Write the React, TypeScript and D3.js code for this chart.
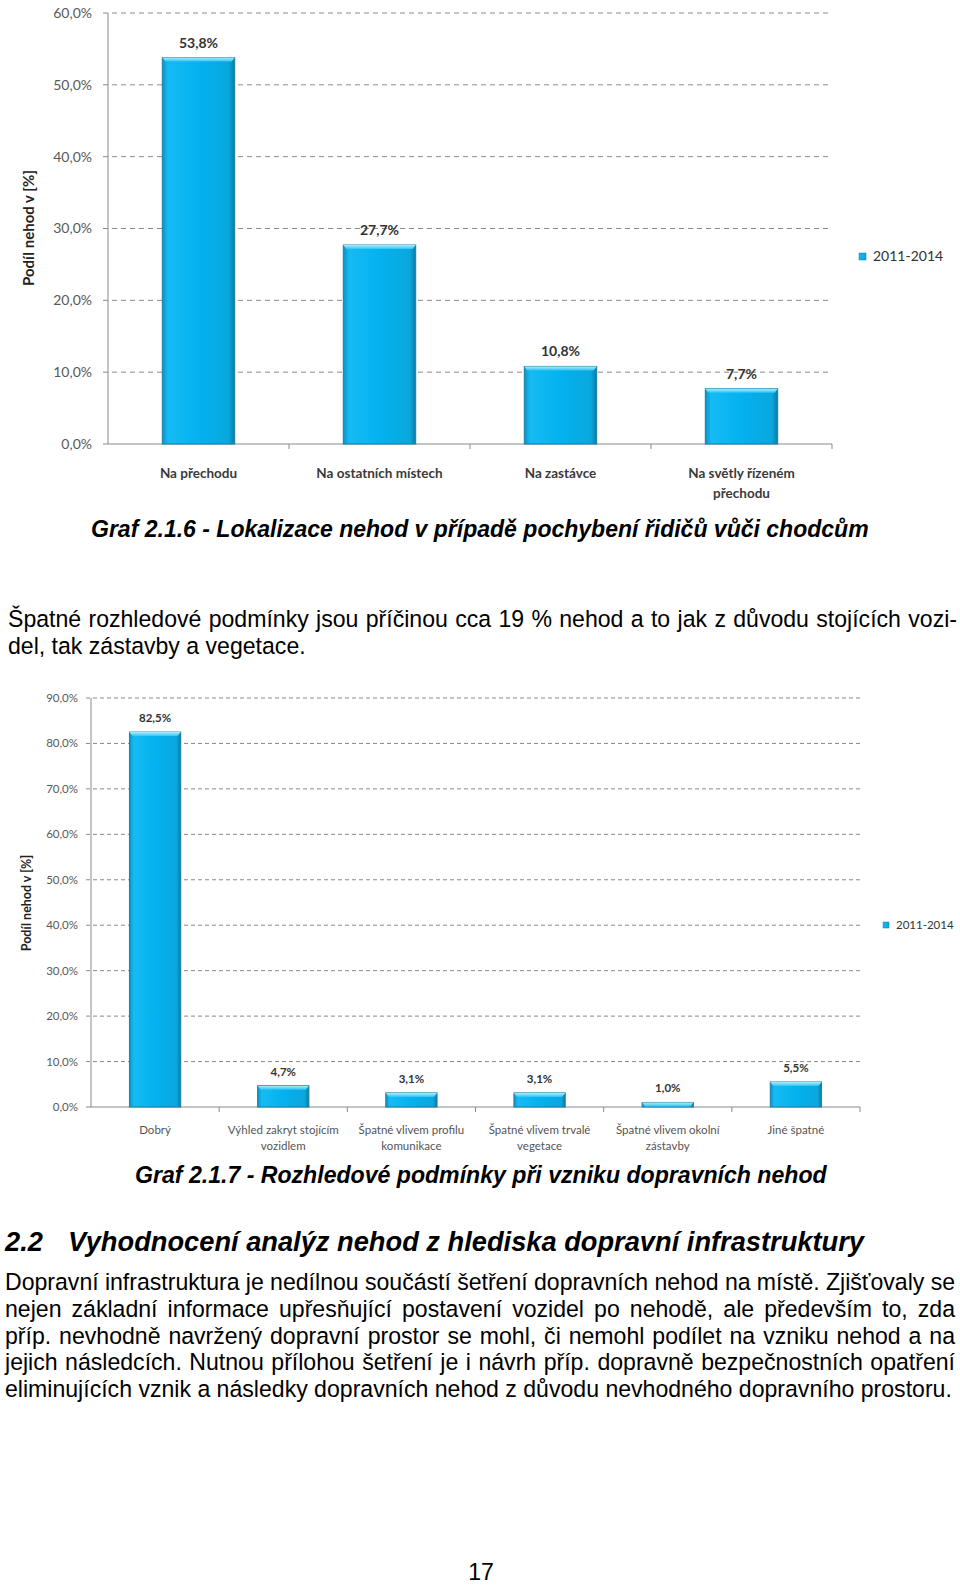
import React from "react";
import * as d3 from "d3";

// series + categories
const seriesName = "2011-2014";

const locationLabels = [["Na přechodu"], ["Na ostatních místech"], ["Na zastávce"], ["Na světly řízeném", "přechodu"]];
const locationShares = [53.8, 27.7, 10.8, 7.7];
const locationTicks = [0, 10, 20, 30, 40, 50, 60];

const visibilityLabels = [
  ["Dobrý"],
  ["Výhled zakryt stojícím", "vozidlem"],
  ["Špatné vlivem profilu", "komunikace"],
  ["Špatné vlivem trvalé", "vegetace"],
  ["Špatné vlivem okolní", "zástavby"],
  ["Jiné špatné"]
];
const visibilityShares = [82.5, 4.7, 3.1, 3.1, 1.0, 5.5];
const visibilityTicks = [0, 10, 20, 30, 40, 50, 60, 70, 80, 90];

const yTitle = "Podíl nehod v [%]";
const caption1 = "Graf 2.1.6 - Lokalizace nehod v případě pochybení řidičů vůči chodcům";
const caption2 = "Graf 2.1.7 - Rozhledové podmínky při vzniku dopravních nehod";
const para1 = ["Špatné rozhledové podmínky jsou příčinou cca 19 % nehod a to jak z důvodu stojících vozi-", "del, tak zástavby a vegetace."];
const headingNum = "2.2";
const headingText = "Vyhodnocení analýz nehod z hlediska dopravní infrastruktury";
const para2 = [
  "Dopravní infrastruktura je nedílnou součástí šetření dopravních nehod na místě. Zjišťovaly se",
  "nejen základní informace upřesňující postavení vozidel po nehodě, ale především to, zda",
  "příp. nevhodně navržený dopravní prostor se mohl, či nemohl podílet na vzniku nehod a na",
  "jejich následcích. Nutnou přílohou šetření je i návrh příp. dopravně bezpečnostních opatření",
  "eliminujících vznik a následky dopravních nehod z důvodu nevhodného dopravního prostoru."
];
const pageNumber = "17";

const pct = (v: number) => d3.format(".1f")(v).replace(".", ",") + "%";

const BODY = "'Liberation Sans', Arial, sans-serif";
const CHART = "Lato, 'Open Sans', sans-serif";

let ctx: any = null;
function measure(text: string, font: string) {
  if (!ctx) ctx = document.createElement("canvas").getContext("2d");
  ctx.font = font;
  return ctx.measureText(text).width;
}
function fitSize(text: string, style: string, width: number) {
  return (100 * width) / measure(text, `${style} 100px 'Liberation Sans'`);
}

function JustLine({ text, x0, x1, y, size, justify }: any) {
  if (!justify) {
    return <text x={x0} y={y} fontSize={size} fontFamily={BODY} fill="#000">{text}</text>;
  }
  const words = text.split(" ");
  const widths = words.map((w: string) => measure(w, `${size}px 'Liberation Sans'`));
  const gap = (x1 - x0 - d3.sum(widths)) / (words.length - 1);
  let x = x0;
  return (
    <g>
      {words.map((w: string, i: number) => {
        const el = <text key={i} x={x} y={y} fontSize={size} fontFamily={BODY} fill="#000">{w}</text>;
        x += widths[i] + gap;
        return el;
      })}
    </g>
  );
}

function BarChart({ labels, values, ticks, left, right, top, bottom, fs, catY, catStep, legend, titleX, titleY, dash, tickGap, catWeight, catColor }: any) {
  const x = d3.scaleBand().domain(labels.map((_: any, i: number) => String(i))).range([left, right]).paddingInner(0.6).paddingOuter(0.3);
  const y = d3.scaleLinear().domain([0, ticks[ticks.length - 1]]).range([bottom, top]);
  const bw = x.bandwidth();
  const step = x.step();
  return (
    <g>
      {ticks.map((t: number) => (
        <g key={t}>
          {t > 0 && <line x1={left - 5} x2={right} y1={y(t)} y2={y(t)} stroke="#8a8a8a" strokeWidth={1} strokeDasharray={dash} />}
          {t === 0 && <line x1={left - 5} x2={left} y1={y(t)} y2={y(t)} stroke="#8a8a8a" />}
          <text x={left - tickGap} y={y(t)} dy="0.35em" textAnchor="end" fontSize={fs.tick} fontFamily={CHART} fill="#595959">{pct(t)}</text>
        </g>
      ))}
      <line x1={left} x2={left} y1={top} y2={bottom} stroke="#8a8a8a" />
      <line x1={left} x2={right} y1={bottom} y2={bottom} stroke="#8a8a8a" />
      {labels.map((_: any, i: number) => (
        <line key={i} x1={left + step * (i + 1)} x2={left + step * (i + 1)} y1={bottom} y2={bottom + 5} stroke="#8a8a8a" />
      ))}
      {values.map((v: number, i: number) => {
        const bx = x(String(i)) as number;
        const by = y(v);
        const h = bottom - by;
        const cap = Math.min(4, h);
        return (
          <g key={i}>
            <rect x={bx} y={by} width={bw} height={h} fill="url(#barFill)" stroke="#1a7fa6" strokeWidth={1} />
            <polygon points={`${bx},${by} ${bx + bw},${by} ${bx + bw - 3},${by + cap} ${bx + 3},${by + cap}`} fill="url(#barCap)" />
            <text x={bx + bw / 2} y={by - 10} textAnchor="middle" fontSize={fs.value} fontWeight={700} fontFamily={CHART} fill="#333">{pct(v)}</text>
          </g>
        );
      })}
      {labels.map((lines: string[], i: number) => (
        <text key={i} textAnchor="middle" fontSize={fs.cat} fontWeight={catWeight} fontFamily={CHART} fill={catColor}>
          {lines.map((ln, j) => (
            <tspan key={j} x={(x(String(i)) as number) + bw / 2} y={catY + j * catStep}>{ln}</tspan>
          ))}
        </text>
      ))}
      <text transform={`translate(${titleX},${titleY}) rotate(-90)`} textAnchor="middle" fontSize={fs.title} fontWeight={700} fontFamily={CHART} fill="#222">{yTitle}</text>
      <rect x={legend.x} y={legend.y} width={legend.s} height={legend.s} fill="url(#barFill)" stroke="#1a7fa6" strokeWidth={0.5} />
      <text x={legend.x + legend.s + 7} y={legend.y + legend.s / 2} dy="0.35em" fontSize={fs.legend} fontFamily={CHART} fill="#333">{seriesName}</text>
    </g>
  );
}

export default function App() {
  const body = fitSize(para2[4], "normal normal", 947);
  const cap1 = fitSize(caption1, "italic bold", 778);
  const cap2 = fitSize(caption2, "italic bold", 692);
  const head = fitSize(headingText, "italic bold", 796);
  const lh = 26.8;
  return (
    <svg width={960} height={1588} style={{ position: "absolute", left: 0, top: 0, background: "#fff" }}>
      <defs>
        <linearGradient id="barFill" x1="0" x2="1" y1="0" y2="0">
          <stop offset="0" stopColor="#0a93c6" />
          <stop offset="0.08" stopColor="#16bbf3" />
          <stop offset="0.5" stopColor="#03b2ef" />
          <stop offset="0.92" stopColor="#0aa7de" />
          <stop offset="1" stopColor="#0a7aa3" />
        </linearGradient>
        <linearGradient id="barCap" x1="0" x2="0" y1="0" y2="1">
          <stop offset="0" stopColor="#b0ecfd" />
          <stop offset="1" stopColor="#2ec4f6" />
        </linearGradient>
      </defs>
      <rect width={960} height={1588} fill="#fff" />

      <BarChart
        labels={locationLabels} values={locationShares} ticks={locationTicks}
        left={108} right={832} top={13} bottom={444}
        fs={{ tick: 14, value: 14, cat: 13.5, title: 15, legend: 14 }}
        catY={478} catStep={20} legend={{ x: 859, y: 253, s: 7 }} titleX={34} titleY={228}
        dash="5,4" tickGap={16} catWeight={700} catColor="#3a3a3a"
      />
      <text x={91} y={537} fontSize={cap1} fontStyle="italic" fontWeight={700} fontFamily={BODY} fill="#000">{caption1}</text>

      {para1.map((ln, i) => (
        <JustLine key={i} text={ln} x0={8} x1={957} y={627 + i * lh} size={body} justify={i === 0} />
      ))}

      <BarChart
        labels={visibilityLabels} values={visibilityShares} ticks={visibilityTicks}
        left={91} right={860} top={698} bottom={1107}
        fs={{ tick: 11.5, value: 11.5, cat: 11.5, title: 12.5, legend: 11.5 }}
        catY={1134} catStep={16} legend={{ x: 883, y: 922, s: 6 }} titleX={31} titleY={903}
        dash="4,3" tickGap={13} catWeight={400} catColor="#555"
      />
      <text x={135} y={1183} fontSize={cap2} fontStyle="italic" fontWeight={700} fontFamily={BODY} fill="#000">{caption2}</text>

      <text x={5} y={1251} fontSize={head} fontStyle="italic" fontWeight={700} fontFamily={BODY} fill="#000">{headingNum}</text>
      <text x={68} y={1251} fontSize={head} fontStyle="italic" fontWeight={700} fontFamily={BODY} fill="#000">{headingText}</text>

      {para2.map((ln, i) => (
        <JustLine key={i} text={ln} x0={5} x1={955} y={1290 + i * lh} size={body} justify={i < para2.length - 1} />
      ))}

      <text x={481} y={1580} textAnchor="middle" fontSize={body} fontFamily={BODY} fill="#000">{pageNumber}</text>
    </svg>
  );
}
